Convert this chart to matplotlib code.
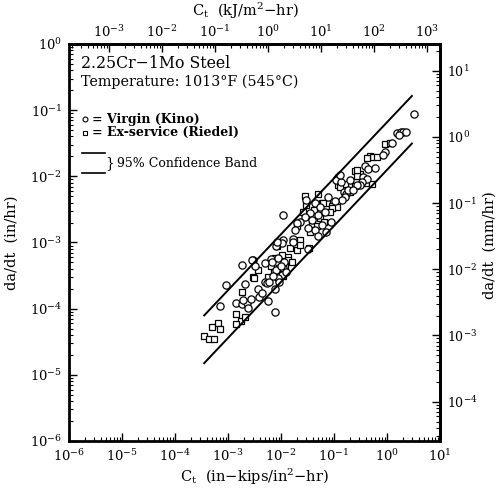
import numpy as np
import matplotlib
matplotlib.use("Agg")
import matplotlib.pyplot as plt

plt.rcParams['font.family'] = ['DejaVu Serif']
plt.rcParams['mathtext.fontset'] = 'dejavuserif'

# log10 values
virgin_log_ct = [0.51, 0.19, 0.26, 0.31, 0.36, 0.23, 0.09, -0.04, -0.08, -0.42, -0.35, -0.23,
                 -0.45, -0.38, -0.48, -0.51, -0.92, -0.96, -0.87, -0.82, -0.77, -0.73, -0.79,
                 -0.84, -0.89, -0.70, -0.57, -0.64, -1.97, -1.36, -0.98, -1.26, -1.45, -1.55,
                 -1.42, -1.30, -1.17, -1.23, -1.36, -1.49, -1.30, -1.15, -1.64, -1.70, -1.74,
                 -1.77, -1.78, -1.96, -1.99, -2.09, -2.07, -1.96, -1.99, -2.05, -2.52, -2.74,
                 -2.55, -3.04, -3.16, -2.67, -2.85, -2.74, -2.65, -2.62, -2.71, -2.57, -2.44,
                 -2.41, -2.36, -2.30, -2.19, -2.31, -2.26, -2.22, -2.24, -2.12, -2.12, -2.17,
                 -2.06, -1.94, -2.09, -2.00, -1.91, -2.15, -2.04, -2.49, -1.53, -1.11, -1.06,
                 -1.49]
virgin_log_da = [-1.06, -1.35, -1.33, -1.33, -1.33, -1.37, -1.49, -1.63, -1.68, -1.85, -1.89, -1.88,
                 -2.01, -2.04, -2.08, -2.13, -2.01, -2.06, -2.08, -2.23, -2.26, -2.21, -2.31,
                 -2.36, -1.98, -2.06, -2.13, -2.21, -2.58, -2.41, -2.38, -2.46, -2.55, -2.61,
                 -2.66, -2.58, -2.54, -2.74, -2.81, -2.78, -2.90, -2.84, -2.69, -2.71, -2.81,
                 -2.94, -2.99, -2.96, -3.01, -3.05, -3.00, -3.39, -3.49, -3.54, -3.26, -3.34,
                 -3.26, -3.64, -3.96, -3.62, -3.91, -3.93, -3.92, -3.99, -3.87, -3.86, -3.70,
                 -3.82, -3.77, -3.31, -3.25, -3.59, -3.61, -3.59, -3.88, -3.71, -4.05, -3.29,
                 -3.23, -3.29, -3.42, -3.35, -3.45, -3.51, -3.60, -3.35, -2.36, -2.31, -2.69,
                 -3.10]

exservice_log_ct = [-0.04, 0.06, -0.32, -0.26, -0.38, -0.18, -0.60, -0.51, -0.57, -0.40, -0.29,
                    -0.67, -0.60, -0.70, -1.23, -1.14, -1.04, -0.95, -0.92, -0.79, -1.53, -1.20,
                    -1.04, -1.38, -1.26, -1.42, -1.32, -1.19, -1.45, -1.65, -1.83, -1.70, -1.65,
                    -1.48, -2.08, -1.86, -2.52, -2.43, -2.51, -3.45, -3.35, -3.26, -3.31, -3.19,
                    -3.16, -2.73, -2.84, -2.76, -2.68, -2.84, -2.11, -1.98, -1.87, -2.19, -2.04,
                    -1.92, -1.79, -2.13, -1.96, -2.25, -1.55, -1.30, -1.08, -1.58, -1.70, -0.57,
                    -0.95, -0.89]
exservice_log_da = [-1.51, -1.49, -1.70, -1.71, -1.73, -1.71, -1.92, -1.96, -1.99, -2.10, -2.11,
                    -2.14, -2.15, -2.23, -2.41, -2.41, -2.45, -2.46, -2.13, -2.11, -2.43, -2.41,
                    -2.48, -2.51, -2.63, -2.72, -2.75, -2.69, -2.84, -2.96, -3.09, -3.11, -3.04,
                    -3.09, -3.06, -3.22, -3.52, -3.42, -3.54, -4.41, -4.46, -4.46, -4.27, -4.21,
                    -4.30, -3.75, -4.08, -4.18, -4.12, -4.23, -3.23, -3.19, -3.26, -3.35, -3.39,
                    -3.35, -3.29, -3.45, -3.51, -3.52, -2.30, -2.27, -2.54, -2.54, -2.75, -1.90,
                    -2.04, -2.16]

band_ct = [3.55e-4, 2.95]
band_upper = [7.9e-5, 0.164]
band_lower = [1.5e-5, 0.0313]

CONV_KJ = 175.13   # in-kips/in^2 -> kJ/m^2
CONV_MM = 25.4     # in -> mm

fig = plt.figure(figsize=(5.02, 4.90), dpi=100)
ax = fig.add_axes([69/502, 1-441/490, (440-69)/502, (441-44)/490])

ax.set_xscale('log')
ax.set_yscale('log')
ax.set_xlim(1e-6, 1e1)
ax.set_ylim(1e-6, 1e0)

ct_v = 10.0 ** np.array(virgin_log_ct)
da_v = 10.0 ** np.array(virgin_log_da)
ct_e = 10.0 ** np.array(exservice_log_ct)
da_e = 10.0 ** np.array(exservice_log_da)

ax.plot(ct_e, da_e, linestyle='none', marker='s', ms=5.0, mfc='white', mec='black', mew=0.9)
ax.plot(ct_v, da_v, linestyle='none', marker='o', ms=5.2, mfc='white', mec='black', mew=0.9)

ax.plot(band_ct, band_upper, color='black', lw=1.4)
ax.plot(band_ct, band_lower, color='black', lw=1.4)

for s in ax.spines.values():
    s.set_linewidth(2.0)

TICK_FS = 9.5
ax.set_xticks([10.0**k for k in range(-6, 2)])
ax.set_yticks([10.0**k for k in range(-6, 1)])
ax.tick_params(which='major', direction='in', length=6, width=1.0, labelsize=TICK_FS, pad=5)
ax.tick_params(which='minor', direction='in', length=3, width=0.8)
ax.xaxis.set_minor_locator(matplotlib.ticker.LogLocator(base=10, subs=np.arange(2, 10), numticks=20))
ax.yaxis.set_minor_locator(matplotlib.ticker.LogLocator(base=10, subs=np.arange(2, 10), numticks=20))
ax.xaxis.set_minor_formatter(matplotlib.ticker.NullFormatter())
ax.yaxis.set_minor_formatter(matplotlib.ticker.NullFormatter())

secx = ax.secondary_xaxis('top', functions=(lambda x: x * CONV_KJ, lambda x: x / CONV_KJ))
secx.set_xticks([10.0**k for k in range(-3, 4)])
secx.xaxis.set_minor_locator(matplotlib.ticker.LogLocator(base=10, subs=np.arange(2, 10), numticks=20))
secx.xaxis.set_minor_formatter(matplotlib.ticker.NullFormatter())
secx.tick_params(which='major', direction='in', length=6, width=1.0, labelsize=TICK_FS, pad=3)
secx.tick_params(which='minor', direction='in', length=3, width=0.8)
secx.spines['top'].set_linewidth(2.0)
fig.text(245/502, 1 - 11/490, r'C$_\mathregular{t}$  (kJ/m$^\mathregular{2}$$-$hr)',
         fontsize=10.5, ha='center', va='center')

secy = ax.secondary_yaxis('right', functions=(lambda y: y * CONV_MM, lambda y: y / CONV_MM))
secy.set_yticks([10.0**k for k in range(-4, 2)])
secy.yaxis.set_minor_locator(matplotlib.ticker.LogLocator(base=10, subs=np.arange(2, 10), numticks=20))
secy.yaxis.set_minor_formatter(matplotlib.ticker.NullFormatter())
secy.tick_params(which='major', direction='in', length=6, width=1.0, labelsize=9, pad=5)
secy.tick_params(which='minor', direction='in', length=3, width=0.8)
secy.spines['right'].set_linewidth(2.0)
fig.text(490/502, 1 - 245/490, r'da/dt  (mm/hr)', fontsize=10.5, rotation=90,
         ha='center', va='center')

ax.set_xlabel(r'C$_\mathregular{t}$  (in$-$kips/in$^\mathregular{2}$$-$hr)', fontsize=10.5, labelpad=2)
ax.set_ylabel(r'da/dt  (in/hr)', fontsize=10.5, labelpad=8)

ax.text(0.033, 0.952, '2.25Cr\u22121Mo Steel', transform=ax.transAxes, fontsize=11.3,
        va='center', ha='left')
ax.text(0.033, 0.905, 'Temperature: 1013\u00b0F (545\u00b0C)', transform=ax.transAxes,
        fontsize=10.3, va='center', ha='left')
ax.plot([0.043], [0.81], transform=ax.transAxes, marker='o', ms=3.5, mfc='white',
        mec='black', mew=0.8, linestyle='none')
ax.plot([0.043], [0.777], transform=ax.transAxes, marker='s', ms=3.5, mfc='white',
        mec='black', mew=0.8, linestyle='none')
ax.text(0.062, 0.81, '= Virgin (Kino)', transform=ax.transAxes, fontsize=9,
        va='center', ha='left', fontweight='bold')
ax.text(0.062, 0.777, '= Ex-service (Riedel)', transform=ax.transAxes, fontsize=9,
        va='center', ha='left', fontweight='bold')
ax.plot([0.034, 0.097], [0.726, 0.726], transform=ax.transAxes, color='black', lw=1.2)
ax.plot([0.034, 0.097], [0.674, 0.674], transform=ax.transAxes, color='black', lw=1.2)
ax.text(0.097, 0.700, '}', transform=ax.transAxes, fontsize=10, va='center', ha='left')
ax.text(0.13, 0.700, '95% Confidence Band', transform=ax.transAxes, fontsize=9,
        va='center', ha='left')

fig.savefig('out.png', dpi=100)
